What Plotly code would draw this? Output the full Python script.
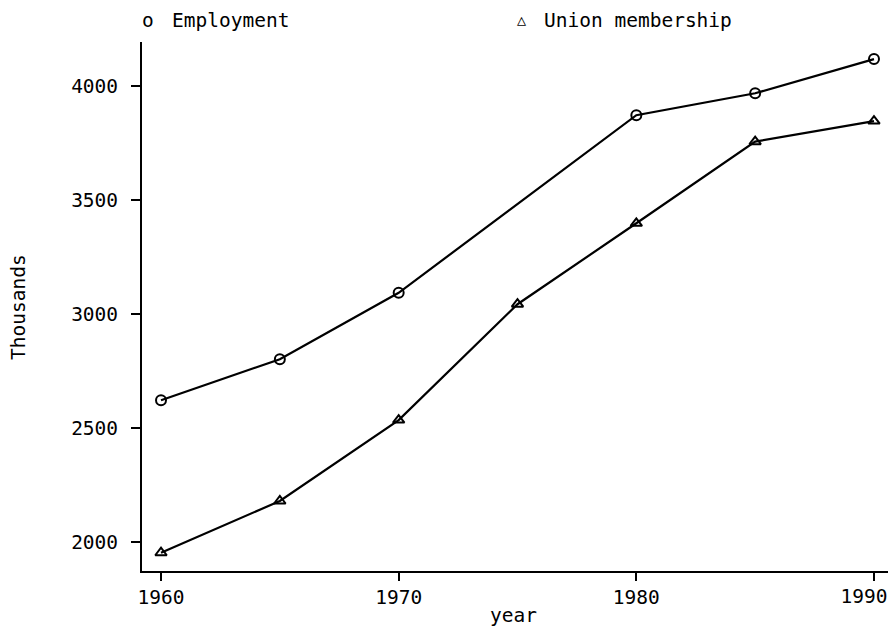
import plotly.graph_objects as go

emp_years = [1960, 1965, 1970, 1980, 1985, 1990]
employment = [2622, 2802, 3093, 3872, 3968, 4118]
union_years = [1960, 1965, 1970, 1975, 1980, 1985, 1990]
union = [1953, 2180, 2535, 3043, 3398, 3756, 3846]
x_ticks = [1960, 1970, 1980, 1990]
x_tick_labels = ["1960", "1970", "1980", "1990"]
y_ticks = [2000, 2500, 3000, 3500, 4000]

FONT = "DejaVu Sans Mono"
FS = 19.5

# page is offset by the 8px body margin; plot area in figure coords
L, R, T, B = 134, 885, 34, 563
W, H = 896, 630
PW, PH = R - L, B - T
X_RANGE = [1959.2, 1990.8]
Y_RANGE = [1873, 4193]


def px(fx):
    return (fx - L) / PW


def py(fy):
    return 1 - (fy - T) / PH


fig = go.Figure()
fig.add_trace(go.Scatter(
    x=emp_years, y=employment, mode="lines+markers", name="Employment",
    line=dict(color="black", width=2.2),
    marker=dict(symbol="circle-open", size=10, color="black", line=dict(width=2)),
    showlegend=False))
fig.add_trace(go.Scatter(
    x=union_years, y=union, mode="lines+markers", name="Union membership",
    line=dict(color="black", width=2.2),
    marker=dict(symbol="triangle-up-open", size=10, color="black", line=dict(width=2)),
    showlegend=False))
# invisible carrier so the overlay axis (last year label, pulled inward) is drawn
fig.add_trace(go.Scatter(x=[x_ticks[-1]], y=[union[-1]], xaxis="x2", mode="markers",
                         marker=dict(opacity=0), hoverinfo="skip", showlegend=False))

fig.update_layout(
    width=W, height=H,
    margin=dict(l=L, r=W - R, t=T, b=H - B, autoexpand=False),
    paper_bgcolor="white", plot_bgcolor="white",
    font=dict(family=FONT, size=FS, color="black"),
    xaxis=dict(range=X_RANGE, tickvals=x_ticks, ticktext=x_tick_labels[:-1] + [""],
               showgrid=False, zeroline=False,
               showline=True, linecolor="black", linewidth=2,
               ticks="outside", ticklen=8, tickwidth=2, tickcolor="black"),
    xaxis2=dict(range=X_RANGE, overlaying="x", anchor="y", side="bottom",
                tickvals=x_ticks[-1:], ticktext=x_tick_labels[-1:],
                showgrid=False, zeroline=False, showline=False,
                ticks="outside", ticklen=8, tickwidth=2, tickcolor="black",
                ticklabelshift=-10),
    yaxis=dict(range=Y_RANGE, tickvals=y_ticks, showgrid=False, zeroline=False,
               showline=True, linecolor="black", linewidth=2,
               ticks="outside", ticklen=9, tickwidth=2, tickcolor="black",
               ticklabelstandoff=9),
)

ann_font = dict(family=FONT, size=FS, color="black")
fig.add_annotation(xref="paper", yref="paper", x=px(10), y=py(299), text="Thousands",
                   textangle=-90, showarrow=False, xanchor="center", yanchor="middle", font=ann_font)
fig.add_annotation(xref="paper", yref="paper", x=px(505), y=py(607), text="year",
                   showarrow=False, xanchor="center", yanchor="middle", font=ann_font)

LEG_Y = 12
fig.add_annotation(xref="paper", yref="paper", x=px(140), y=py(LEG_Y), text="o",
                   showarrow=False, xanchor="center", yanchor="middle", font=ann_font)
fig.add_annotation(xref="paper", yref="paper", x=px(162), y=py(LEG_Y), text="Employment",
                   showarrow=False, xanchor="left", yanchor="middle", font=ann_font)
fig.add_annotation(xref="paper", yref="paper", x=px(513), y=py(LEG_Y), text="△",
                   showarrow=False, xanchor="center", yanchor="middle",
                   font=dict(family=FONT, size=15, color="black"))
fig.add_annotation(xref="paper", yref="paper", x=px(534), y=py(LEG_Y), text="Union membership",
                   showarrow=False, xanchor="left", yanchor="middle", font=ann_font)

fig.write_html("out.html")
